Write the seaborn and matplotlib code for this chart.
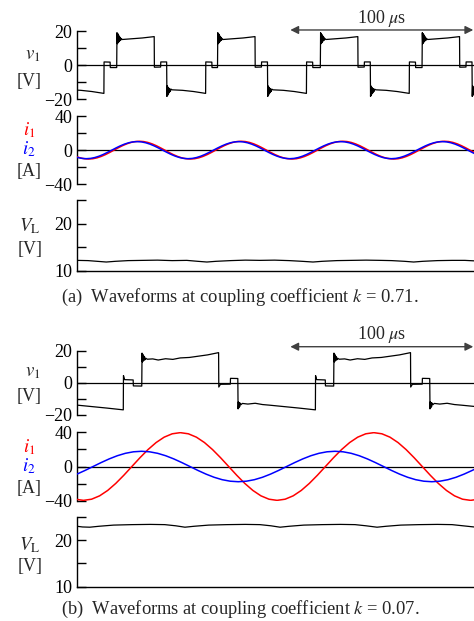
import numpy as np
import pandas as pd
import matplotlib
matplotlib.use("Agg")
import matplotlib.pyplot as plt
import seaborn as sns

# time axis [us], same scale for (a) and (b)
t_max = 217.0
scale_bar = (116.6, 216.6)   # the "100 us" arrow

# ---------------- (a) k = 0.71 ----------------
# v1: one switching cycle, offsets from each rising edge [us] and voltage [V]
v1a_off = [0.0, 0.15, 0.35, 0.55, 0.75, 0.95, 1.15, 1.4, 1.65, 1.9, 2.2, 2.5, 3.0, 8.0, 14.0, 20.5,
           20.6, 24.0, 24.1, 27.3,
           27.45, 27.65, 27.85, 28.05, 28.25, 28.5, 28.75, 29.0, 29.3, 29.7, 30.3, 36.0, 42.0, 48.6,
           48.7, 52.0, 52.1]
v1a_val = [-1.5, 19.0, 12.5, 18.5, 13.0, 17.8, 13.6, 17.0, 14.2, 16.3, 14.6, 15.6, 15.0, 15.4, 15.9, 16.7,
           -1.3, -1.2, 1.8, 1.8,
           -18.5, -12.3, -17.8, -13.0, -17.0, -13.6, -16.3, -14.0, -15.6, -14.2, -14.6, -14.9, -15.6, -16.7,
           1.8, 1.7, -1.5]
v1a_rise = [-33.9, 21.7, 76.8, 133.0, 188.6]

# coil currents, one period sampled every 15 deg
cur_a_off = [0, 2.32, 4.63, 6.95, 9.27, 11.58, 13.90, 16.22, 18.53, 20.85, 23.17, 25.48,
             27.80, 30.12, 32.43, 34.75, 37.07, 39.38, 41.70, 44.02, 46.33, 48.65, 50.97, 53.28]
i1a_val = [0, 2.69, 5.20, 7.35, 9.01, 10.05, 10.4, 10.05, 9.01, 7.35, 5.20, 2.69,
           0, -2.69, -5.20, -7.35, -9.01, -10.05, -10.4, -10.05, -9.01, -7.35, -5.20, -2.69]
i2a_val = [0, 2.59, 5.00, 7.07, 8.66, 9.66, 10.0, 9.66, 8.66, 7.07, 5.00, 2.59,
           0, -2.59, -5.00, -7.07, -8.66, -9.66, -10.0, -9.66, -8.66, -7.07, -5.00, -2.59]
i1a_start = [-35.4, 20.2, 75.8, 131.4, 187.0]
i2a_start = [-36.6, 19.0, 74.6, 130.2, 185.8]

# load voltage
vla_t = [0, 6, 11, 16, 21, 28, 36, 44, 52, 60, 66, 71, 76, 84, 92, 100, 108, 116, 123, 129,
         134, 142, 150, 158, 166, 172, 179, 184, 189, 197, 205, 212, 217]
vla_val = [12.2, 12.15, 12.0, 11.85, 12.0, 12.15, 12.2, 12.25, 12.15, 12.2, 12.0, 11.85, 12.0,
           12.15, 12.25, 12.2, 12.25, 12.15, 12.0, 11.85, 12.0, 12.15, 12.2, 12.25, 12.2, 12.15,
           12.0, 11.85, 12.0, 12.15, 12.2, 12.2, 12.1]

# ---------------- (b) k = 0.07 ----------------
v1b_off = [0.0, 0.15, 0.35, 0.55, 0.75, 0.95, 1.2, 1.5, 1.8, 2.2, 3.0, 6.0, 9.0, 13.0, 17.0, 21.0,
           26.0, 31.0, 36.0, 42.0,
           42.1, 43.0, 48.4, 48.5, 52.5,
           52.65, 52.85, 53.05, 53.25, 53.5, 53.8, 54.2, 55.0, 58.0, 62.0, 66.0, 70.0, 78.0, 86.0, 94.9,
           95.0, 95.6, 100.3, 100.4]
v1b_val = [-2.0, 18.5, 13.0, 17.8, 13.5, 17.0, 14.0, 16.2, 14.4, 15.3, 14.7, 14.9, 14.2, 15.0, 14.6, 15.5,
           15.8, 16.6, 17.4, 18.8,
           -2.6, -0.9, -0.8, 2.8, 2.7,
           -16.2, -11.8, -15.5, -12.3, -14.8, -12.6, -13.6, -12.8, -13.2, -12.7, -13.5, -13.9, -14.8, -15.7, -16.8,
           4.5, 2.0, 1.8, -1.9]
v1b_rise = [-69.6, 35.4, 140.3]

cur_b_off = [0, 4.41, 8.82, 13.23, 17.63, 22.04, 26.45, 30.86, 35.27, 39.68, 44.08, 48.49,
             52.90, 57.31, 61.72, 66.13, 70.53, 74.94, 79.35, 83.76, 88.17, 92.58, 96.98, 101.39]
i1b_val = [0, 10.25, 19.8, 28.0, 34.3, 38.25, 39.6, 38.25, 34.3, 28.0, 19.8, 10.25,
           0, -10.25, -19.8, -28.0, -34.3, -38.25, -39.6, -38.25, -34.3, -28.0, -19.8, -10.25]
i2b_val = [0, 4.61, 8.90, 12.59, 15.42, 17.19, 17.8, 17.19, 15.42, 12.59, 8.90, 4.61,
           0, -4.61, -8.90, -12.59, -15.42, -17.19, -17.8, -17.19, -15.42, -12.59, -8.90, -4.61]
i1b_start = [-75.8, 30.0, 135.8]
i2b_start = [-97.0, 8.8, 114.6, 220.4]

vlb_t = [0, 3, 7, 12, 20, 30, 40, 48, 54, 59, 64, 72, 82, 92, 100, 106, 111, 116, 124, 134,
         144, 152, 158, 164, 169, 177, 187, 197, 205, 211, 217]
vlb_val = [22.95, 22.8, 22.75, 22.95, 23.2, 23.3, 23.35, 23.3, 23.05, 22.75, 22.95, 23.2, 23.3,
           23.35, 23.3, 23.05, 22.75, 22.95, 23.2, 23.3, 23.35, 23.3, 23.05, 22.75, 22.95, 23.2,
           23.3, 23.35, 23.3, 23.05, 22.8]


def cycles(starts, offsets, values):
    t = np.concatenate([s + np.asarray(offsets) for s in starts])
    y = np.tile(values, len(starts))
    return pd.DataFrame({"t": t, "y": y})


sns.set_theme(style="white")
plt.rcParams["font.family"] = "serif"
plt.rcParams["font.serif"] = ["Liberation Serif", "DejaVu Serif"]
plt.rcParams["mathtext.fontset"] = "stix"
plt.rcParams["axes.unicode_minus"] = True

W, H = 474, 621
fig = plt.figure(figsize=(W / 100, H / 100), dpi=100)
FS = 13


def px_axes(y_top, y_bot):
    return fig.add_axes([77 / W, 1 - y_bot / H, 397 / W, (y_bot - y_top) / H])


def ftext(x, y, s, **kw):
    kw.setdefault("ha", "center")
    kw.setdefault("va", "baseline")
    kw.setdefault("fontsize", FS)
    fig.text(x / W, 1 - y / H, s, **kw)


def style(ax, ylim, ticks, labels, bottom=False):
    ax.set_xlim(0, t_max)
    ax.set_ylim(*ylim)
    ax.set_xticks([])
    ax.set_yticks(ticks)
    ax.set_yticklabels(labels)
    ax.set_xlabel("")
    ax.set_ylabel("")
    sns.despine(ax=ax, top=True, right=True, bottom=not bottom)
    for sp in ax.spines.values():
        sp.set_color("black")
        sp.set_linewidth(1.0)
    ax.tick_params(axis="y", direction="in", length=6.5, width=1.0, pad=3.5,
                   labelsize=FS, colors="black", left=True)
    ax.patch.set_alpha(0)


def trace(ax, df, color, lw):
    sns.lineplot(data=df, x="t", y="y", ax=ax, color=color, lw=lw,
                 estimator=None, sort=False, zorder=3)


def panel(y_v, y_i, y_l, v1, i1, i2, vl, arrow_y, cap_y, caption, lab):
    ax_v = px_axes(*y_v)
    ax_v.axhline(0, color="black", lw=0.9, zorder=2)
    trace(ax_v, v1, "black", 0.9)
    style(ax_v, (-20, 20), [20, 10, 0, -10, -20], ["20", "", "0", "", "\u221220"])

    ax_i = px_axes(*y_i)
    ax_i.axhline(0, color="black", lw=0.9, zorder=2)
    trace(ax_i, i1, "red", 1.1)
    trace(ax_i, i2, "blue", 1.1)
    style(ax_i, (-40, 40), [40, 20, 0, -20, -40], ["40", "", "0", "", "\u221240"])

    ax_l = px_axes(*y_l)
    trace(ax_l, vl, "black", 0.9)
    style(ax_l, (10, 25), [25, 20, 15, 10], ["", "20", "", "10"], bottom=True)

    # 100 us scale arrow
    ax_v.annotate("", xy=(scale_bar[0], arrow_y), xytext=(scale_bar[1], arrow_y),
                  xycoords=ax_v.get_xaxis_transform(), annotation_clip=False,
                  arrowprops=dict(arrowstyle="<|-|>", color="#404040", lw=1.0,
                                  mutation_scale=12, shrinkA=0, shrinkB=0))
    ftext(382, lab["us"], "100 $\\mu$s")

    ftext(32.5, lab["v1"], "$v_1$", fontsize=13.5)
    ftext(29.5, lab["v1u"], "[V]")
    ftext(29, lab["i1"], "$i_1$", color="red", fontsize=13.5)
    ftext(29, lab["i2"], "$i_2$", color="blue", fontsize=13.5)
    ftext(29.5, lab["iu"], "[A]")
    ftext(30, lab["vl"], "$V_\\mathrm{L}$", fontsize=13.5)
    ftext(30, lab["vlu"], "[V]")
    ftext(240, cap_y, caption, fontsize=13.3)


panel((31, 99), (116, 184.3), (200.3, 270.7),
      cycles(v1a_rise, v1a_off, v1a_val),
      cycles(i1a_start, cur_a_off, i1a_val),
      cycles(i2a_start, cur_a_off, i2a_val),
      pd.DataFrame({"t": vla_t, "y": vla_val}),
      1.015, 302.0, "(a)  Waveforms at coupling coefficient $k$ = 0.71.",
      dict(us=22.7, v1=59, v1u=86, i1=135.5, i2=154.5, iu=176, vl=231.7, vlu=254))

panel((350.7, 415), (432.3, 500.7), (516.7, 586.7),
      cycles(v1b_rise, v1b_off, v1b_val),
      cycles(i1b_start, cur_b_off, i1b_val),
      cycles(i2b_start, cur_b_off, i2b_val),
      pd.DataFrame({"t": vlb_t, "y": vlb_val}),
      1.062, 614.0, "(b)  Waveforms at coupling coefficient $k$ = 0.07.",
      dict(us=339.3, v1=376, v1u=400.7, i1=452.5, i2=471.5, iu=493.3, vl=550.7, vlu=570.7))

fig.savefig("out.png", dpi=100)
